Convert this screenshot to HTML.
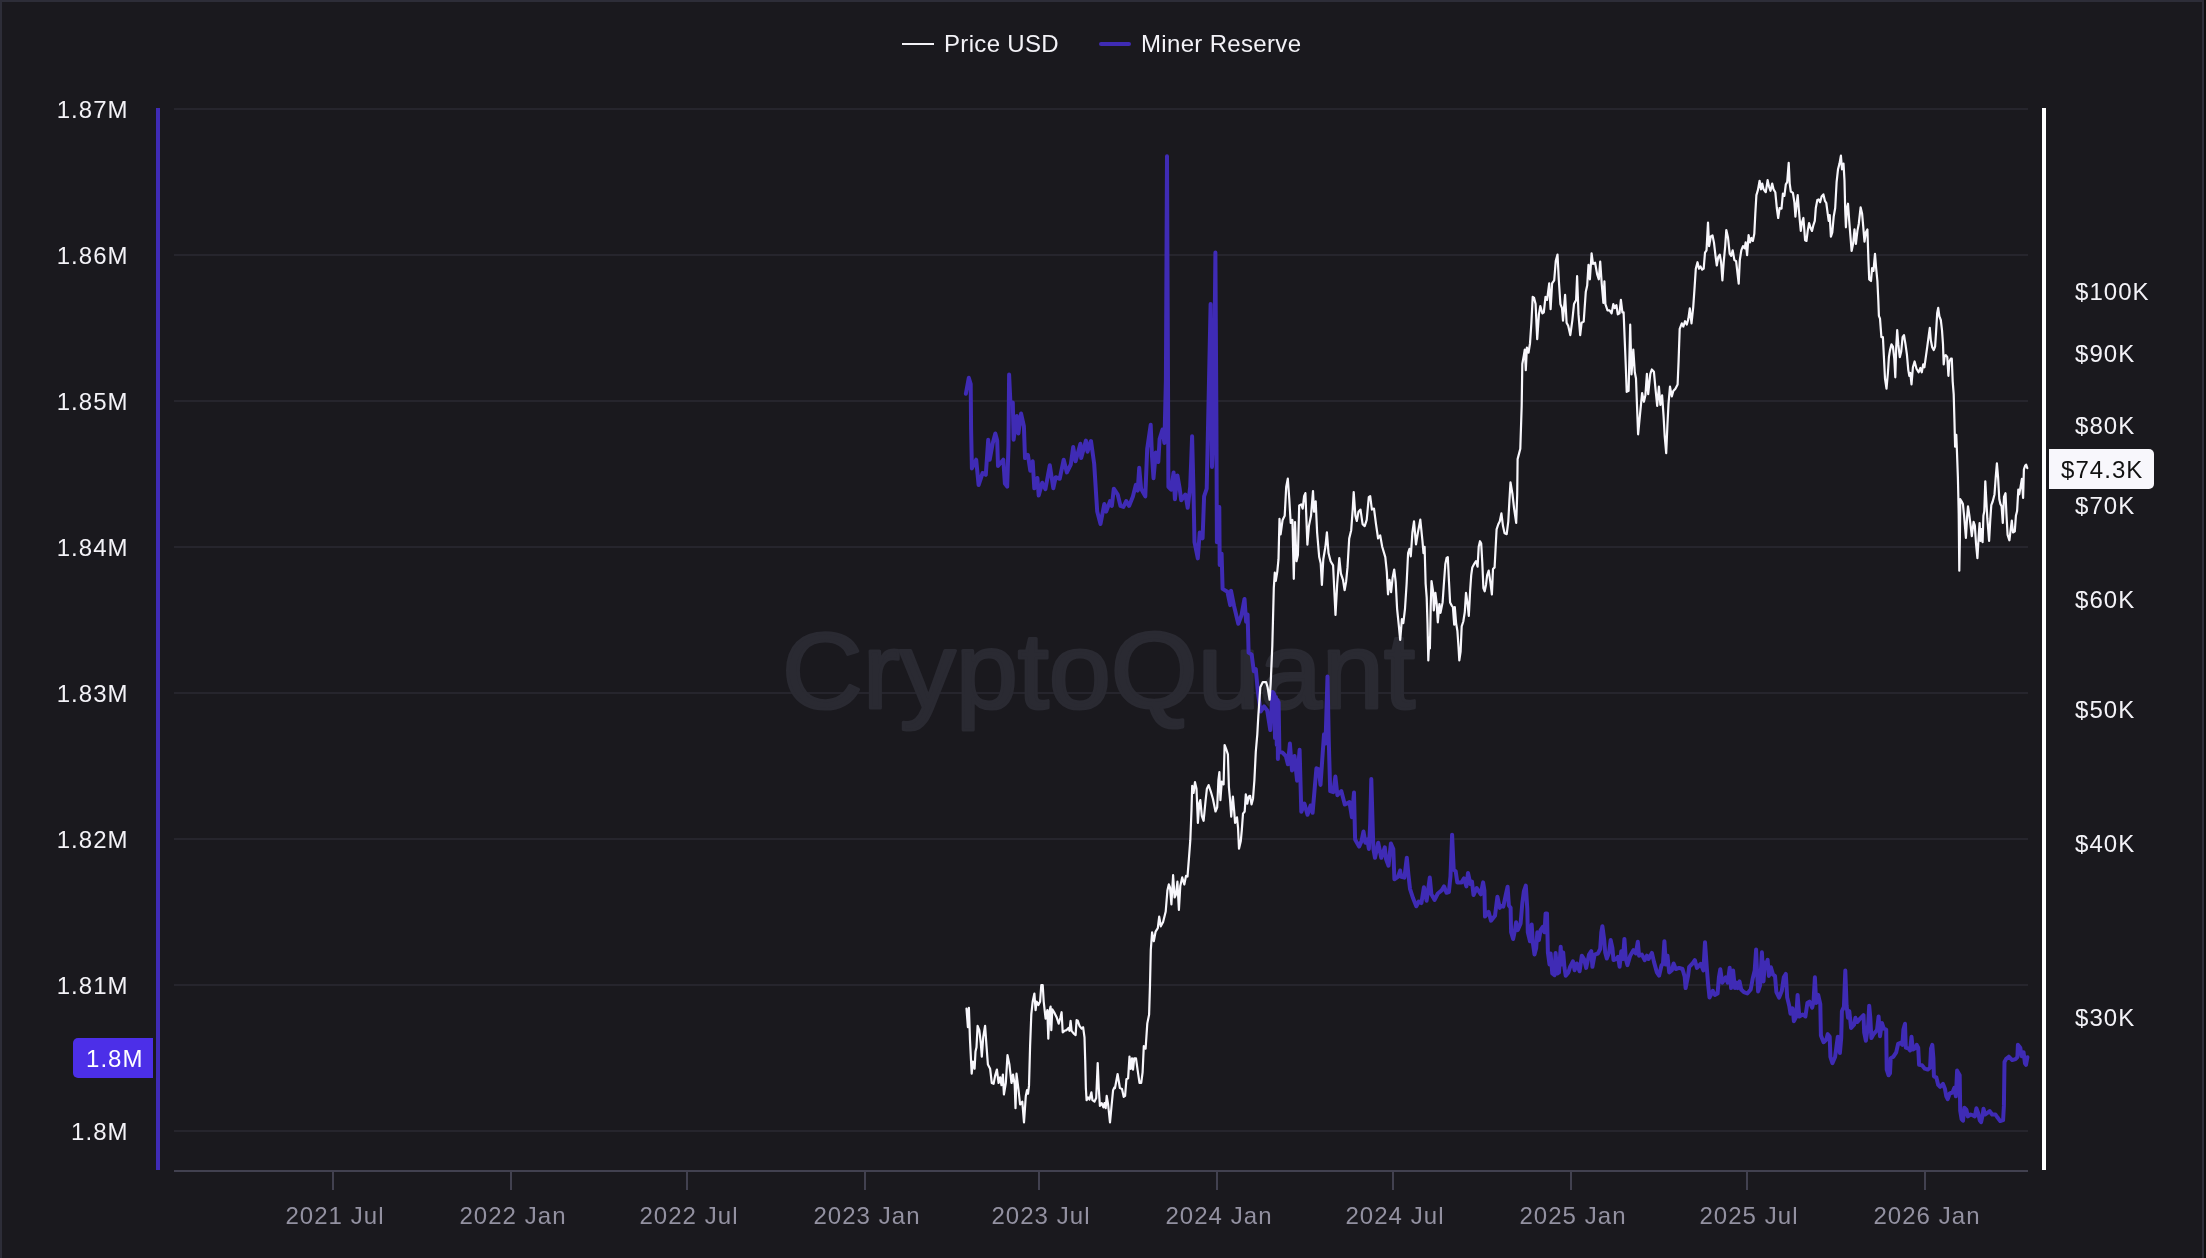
<!DOCTYPE html>
<html><head><meta charset="utf-8"><title>Miner Reserve</title>
<style>
html,body{margin:0;padding:0;background:#1a191e;}
body{width:2206px;height:1258px;position:relative;overflow:hidden;font-family:"Liberation Sans",sans-serif;}
.bT{position:absolute;left:0;top:0;width:2204px;height:2px;background:#2d2d38;}
.bL{position:absolute;left:0;top:0;width:2px;height:1258px;background:#2d2d38;}
.bR{position:absolute;left:2202px;top:0;width:2px;height:1258px;background:#2d2d38;}
.bX{position:absolute;left:2204px;top:0;width:2px;height:1258px;background:#0e0e0f;}
.t{position:absolute;white-space:nowrap;font-size:24px;line-height:28px;height:28px;color:#f3f2f7;letter-spacing:1.05px;}
.yl{width:100px;left:28.6px;text-align:right;}
.xl{width:160px;text-align:center;color:#9391a1;}
.yr{left:2075px;}
.lg{top:30px;font-size:24px;letter-spacing:0.33px;}
.badgeL{position:absolute;left:73px;top:1038px;width:80px;height:40px;background:#4c2fe8;border-radius:5px 0 0 5px;}
.badgeR{position:absolute;left:2049px;top:449px;width:105px;height:40px;background:#f8f7fc;border-radius:0 5px 5px 0;}
</style></head><body>
<svg width="2206" height="1258" viewBox="0 0 2206 1258" style="position:absolute;left:0;top:0">
<rect x="174" y="108" width="1854" height="2" fill="#26252d"/>
<rect x="174" y="254" width="1854" height="2" fill="#26252d"/>
<rect x="174" y="400" width="1854" height="2" fill="#26252d"/>
<rect x="174" y="546" width="1854" height="2" fill="#26252d"/>
<rect x="174" y="692" width="1854" height="2" fill="#26252d"/>
<rect x="174" y="838" width="1854" height="2" fill="#26252d"/>
<rect x="174" y="984" width="1854" height="2" fill="#26252d"/>
<rect x="174" y="1130" width="1854" height="2" fill="#26252d"/>
<text id="wm" x="1098.5" y="707.5" text-anchor="middle" font-family="'Liberation Sans',sans-serif" font-size="108" fill="#2a2a32" stroke="#2a2a32" stroke-width="3.2" stroke-linejoin="round" textLength="633" lengthAdjust="spacingAndGlyphs">CryptoQuant</text>
<rect x="174" y="1170" width="1854" height="2" fill="#424150"/>
<rect x="332" y="1171" width="2" height="19" fill="#424150"/>
<rect x="510" y="1171" width="2" height="19" fill="#424150"/>
<rect x="686" y="1171" width="2" height="19" fill="#424150"/>
<rect x="864" y="1171" width="2" height="19" fill="#424150"/>
<rect x="1038" y="1171" width="2" height="19" fill="#424150"/>
<rect x="1216" y="1171" width="2" height="19" fill="#424150"/>
<rect x="1392" y="1171" width="2" height="19" fill="#424150"/>
<rect x="1570" y="1171" width="2" height="19" fill="#424150"/>
<rect x="1746" y="1171" width="2" height="19" fill="#424150"/>
<rect x="1924" y="1171" width="2" height="19" fill="#424150"/>
<rect x="156" y="108" width="4" height="1062" fill="#3f2bb5"/>
<rect x="2042" y="108" width="4" height="1062" fill="#ffffff"/>
<path d="M965.9 393.7 L968.8 377.8 L970.7 384.0 L971.1 429.5 L971.9 468.4 L976.2 459.7 L978.6 485.0 L982.6 473.0 L985.8 474.8 L988.2 439.8 L989.7 459.7 L992.6 443.8 L995.3 433.5 L997.2 440.6 L998.0 466.0 L1003.3 459.7 L1004.9 483.5 L1007.2 486.7 L1008.5 445.4 L1009.1 374.6 L1010.4 402.5 L1012.8 402.5 L1013.6 439.8 L1016.8 416.0 L1018.4 433.5 L1021.1 413.6 L1023.9 426.3 L1025.0 458.1 L1027.9 454.9 L1030.3 470.8 L1032.7 461.3 L1034.3 488.3 L1037.4 478.0 L1038.7 495.5 L1042.2 482.8 L1045.4 489.1 L1049.8 465.3 L1053.3 488.3 L1055.7 477.2 L1059.7 478.8 L1063.7 459.7 L1066.9 472.4 L1070.8 464.5 L1073.2 447.0 L1075.6 461.3 L1080.4 443.8 L1081.2 458.1 L1085.9 440.6 L1087.5 451.7 L1090.7 441.4 L1091.0 441.0 L1094.2 464.0 L1097.2 511.6 L1100.5 524.0 L1104.3 504.0 L1106.2 511.6 L1110.0 501.1 L1111.9 505.9 L1113.8 488.7 L1117.7 494.5 L1120.5 505.9 L1123.4 506.9 L1126.2 501.1 L1129.1 505.9 L1132.9 496.4 L1135.8 484.9 L1137.7 490.6 L1139.2 467.8 L1141.1 488.7 L1145.3 496.4 L1147.2 448.7 L1150.7 424.8 L1152.0 456.3 L1153.5 478.2 L1155.8 452.5 L1158.3 462.0 L1159.6 439.1 L1162.5 429.6 L1164.4 443.0 L1165.9 380.0 L1167.0 156.2 L1168.0 380.0 L1168.4 486.8 L1171.1 489.7 L1173.6 472.5 L1174.9 499.2 L1177.4 475.4 L1179.7 488.7 L1181.2 500.2 L1185.4 494.5 L1187.7 507.8 L1190.2 486.8 L1192.1 436.3 L1193.4 486.8 L1194.5 542.2 L1197.8 558.4 L1199.7 532.6 L1202.6 538.3 L1204.1 496.4 L1206.7 488.7 L1208.6 400.0 L1210.6 304.0 L1212.0 467.0 L1213.6 430.0 L1215.4 252.4 L1216.4 420.0 L1216.9 542.2 L1219.3 506.9 L1219.7 565.0 L1221.6 553.6 L1222.6 588.9 L1227.4 591.8 L1230.2 605.1 L1231.0 590.7 L1234.1 606.2 L1238.3 623.7 L1241.4 615.5 L1244.5 598.9 L1246.1 621.7 L1247.6 614.4 L1248.6 652.6 L1251.7 654.7 L1253.8 671.2 L1255.8 669.2 L1257.9 691.9 L1260.6 711.5 L1264.1 706.4 L1267.2 710.5 L1270.3 730.1 L1272.6 692.0 L1274.2 694.0 L1275.0 738.0 L1275.9 697.0 L1276.8 745.0 L1277.6 700.0 L1277.9 759.0 L1278.6 702.0 L1279.4 752.0 L1282.3 752.4 L1285.8 756.0 L1287.9 764.2 L1289.9 743.6 L1292.0 770.4 L1294.5 756.0 L1297.1 780.7 L1299.6 749.8 L1301.3 811.7 L1304.4 803.5 L1307.5 814.8 L1310.6 805.5 L1312.6 812.8 L1316.4 768.3 L1318.8 769.4 L1320.5 784.9 L1324.0 734.3 L1325.5 743.6 L1327.5 676.4 L1328.8 741.5 L1330.2 791.1 L1333.3 792.1 L1335.4 776.6 L1337.4 795.2 L1341.3 791.0 L1344.8 804.5 L1349.5 802.1 L1351.9 817.2 L1354.0 792.6 L1355.1 839.5 L1359.1 846.6 L1361.5 841.1 L1363.5 831.5 L1365.4 842.7 L1367.3 839.5 L1368.9 849.0 L1370.2 823.6 L1371.3 779.1 L1372.6 823.6 L1373.4 849.0 L1375.0 857.8 L1378.2 842.7 L1381.3 857.8 L1384.8 847.4 L1386.1 859.4 L1388.5 865.7 L1390.9 843.5 L1393.3 849.0 L1394.4 879.2 L1398.0 876.9 L1400.1 870.5 L1401.2 876.9 L1404.4 877.6 L1406.8 857.8 L1408.4 874.5 L1410.0 888.8 L1413.1 898.3 L1416.3 906.3 L1418.7 901.5 L1421.4 903.1 L1423.9 887.2 L1426.6 900.7 L1429.8 877.6 L1431.4 894.3 L1434.6 899.9 L1437.8 893.5 L1441.7 890.4 L1444.1 886.4 L1446.5 892.8 L1448.9 892.0 L1450.5 876.1 L1452.1 834.7 L1453.7 869.7 L1455.7 871.3 L1457.3 882.4 L1461.6 882.4 L1464.0 878.4 L1466.4 886.4 L1468.0 872.9 L1470.4 884.0 L1472.0 881.6 L1473.5 895.1 L1476.7 888.0 L1480.7 894.3 L1483.1 882.4 L1484.4 890.4 L1485.0 916.6 L1488.6 911.8 L1491.0 920.6 L1495.0 915.8 L1497.4 896.7 L1499.8 907.9 L1500.0 905.6 L1503.3 906.7 L1505.6 895.6 L1507.6 886.7 L1508.9 905.6 L1510.6 907.8 L1511.1 932.3 L1513.1 939.0 L1515.0 930.1 L1516.1 922.3 L1517.8 930.1 L1520.6 923.4 L1522.3 903.4 L1523.9 891.1 L1525.8 885.6 L1527.3 908.9 L1527.8 932.3 L1530.0 941.2 L1531.7 924.5 L1532.8 942.3 L1534.5 954.6 L1536.2 947.9 L1537.3 932.3 L1538.9 940.1 L1540.6 930.1 L1542.8 926.8 L1544.5 932.3 L1545.6 913.4 L1547.0 913.4 L1547.9 952.4 L1549.5 964.6 L1550.6 953.5 L1552.3 973.5 L1554.5 975.2 L1555.6 952.9 L1557.3 973.5 L1559.0 972.4 L1560.7 946.8 L1561.8 964.6 L1563.2 952.4 L1564.5 967.9 L1565.7 975.7 L1568.4 972.4 L1570.1 966.8 L1572.9 961.3 L1574.6 970.2 L1576.8 963.5 L1579.6 971.3 L1581.8 955.7 L1584.0 959.0 L1586.2 967.9 L1589.0 954.6 L1591.3 951.2 L1592.4 966.8 L1594.6 954.6 L1597.9 953.5 L1600.2 949.0 L1601.3 932.3 L1602.4 926.2 L1604.1 939.0 L1605.2 952.4 L1606.8 958.5 L1609.1 952.4 L1610.7 940.1 L1612.4 947.9 L1613.5 960.1 L1616.3 959.0 L1618.0 956.8 L1619.6 966.8 L1621.3 951.2 L1623.0 959.0 L1624.4 939.0 L1625.8 959.0 L1627.4 965.1 L1630.2 955.7 L1633.5 950.1 L1635.8 953.5 L1637.8 941.8 L1639.1 955.7 L1641.9 954.6 L1644.7 960.1 L1646.9 955.7 L1648.6 959.0 L1651.9 952.9 L1654.1 962.4 L1656.9 972.4 L1659.1 975.7 L1661.4 965.7 L1663.0 963.5 L1664.4 941.2 L1665.8 964.6 L1667.5 955.7 L1669.2 972.4 L1671.9 970.2 L1673.6 963.5 L1675.8 969.0 L1679.2 967.9 L1682.5 969.0 L1684.7 976.8 L1685.6 988.0 L1688.1 975.7 L1689.2 966.8 L1692.5 963.5 L1694.8 960.1 L1697.0 967.9 L1700.7 963.8 L1703.4 970.5 L1705.0 942.2 L1706.8 967.8 L1708.1 984.1 L1709.5 997.6 L1712.8 990.8 L1714.9 994.9 L1717.6 993.5 L1718.9 977.3 L1720.3 969.2 L1722.3 982.7 L1725.7 977.3 L1727.7 982.7 L1729.7 967.8 L1731.1 988.1 L1733.1 970.5 L1734.9 988.1 L1736.5 982.7 L1737.8 988.1 L1739.5 981.4 L1741.2 989.5 L1743.9 992.2 L1747.3 993.5 L1750.7 989.5 L1752.7 978.6 L1754.7 970.5 L1756.1 949.6 L1757.0 970.5 L1758.1 991.5 L1760.1 985.4 L1761.9 952.3 L1763.5 981.4 L1764.9 962.4 L1766.9 966.5 L1767.6 959.7 L1768.9 975.9 L1770.9 967.2 L1773.0 974.6 L1775.0 975.9 L1776.4 992.2 L1779.1 997.6 L1781.8 990.8 L1783.8 977.3 L1785.8 973.9 L1787.2 997.6 L1789.2 1005.7 L1790.5 1013.8 L1792.6 1008.4 L1793.9 1021.2 L1796.2 1016.5 L1797.6 994.9 L1799.3 1016.5 L1802.7 1014.5 L1805.4 1016.5 L1807.4 1003.0 L1809.5 1001.6 L1812.2 1007.7 L1813.5 1001.6 L1814.9 977.3 L1816.2 1003.0 L1818.2 994.9 L1820.3 1004.3 L1820.9 1035.4 L1823.6 1042.2 L1826.4 1039.5 L1827.7 1034.1 L1829.7 1036.8 L1830.4 1057.0 L1832.4 1063.1 L1835.1 1057.0 L1836.5 1046.2 L1837.8 1036.8 L1839.9 1053.0 L1841.2 1038.1 L1841.9 1011.1 L1843.9 1007.0 L1845.3 970.5 L1846.6 1005.7 L1848.0 1017.8 L1849.3 1011.1 L1851.1 1028.0 L1854.1 1024.6 L1855.4 1017.8 L1857.4 1021.9 L1860.8 1017.8 L1863.5 1015.1 L1864.2 1032.7 L1865.9 1040.8 L1868.2 1024.6 L1869.2 1005.7 L1870.3 1017.8 L1871.4 1038.1 L1873.6 1034.1 L1877.0 1030.0 L1878.6 1016.5 L1880.0 1036.2 L1881.9 1022.9 L1883.8 1028.6 L1886.2 1029.5 L1886.7 1069.6 L1888.6 1075.3 L1890.0 1073.4 L1890.7 1058.2 L1893.4 1056.7 L1896.2 1052.4 L1898.1 1043.9 L1900.5 1042.9 L1902.4 1044.8 L1903.4 1029.5 L1905.0 1023.8 L1905.8 1047.7 L1908.6 1048.6 L1910.1 1050.5 L1911.5 1036.7 L1912.9 1049.6 L1914.8 1048.6 L1916.7 1044.8 L1918.2 1047.7 L1919.1 1064.8 L1922.0 1065.3 L1924.8 1068.7 L1927.7 1069.6 L1930.1 1067.7 L1931.0 1048.6 L1932.3 1044.8 L1933.4 1058.2 L1933.9 1076.3 L1936.3 1077.3 L1938.2 1084.9 L1940.1 1086.8 L1943.0 1083.9 L1944.9 1088.7 L1946.3 1096.3 L1947.7 1099.2 L1949.7 1093.5 L1952.5 1092.5 L1954.4 1087.7 L1955.9 1096.3 L1957.1 1070.6 L1959.7 1075.3 L1960.2 1110.6 L1961.6 1119.2 L1963.0 1120.7 L1964.4 1107.8 L1966.4 1109.7 L1967.8 1116.4 L1970.6 1114.5 L1973.0 1115.4 L1974.9 1116.4 L1976.4 1108.3 L1978.3 1113.5 L1979.7 1120.2 L1981.1 1122.1 L1982.6 1115.4 L1983.5 1108.7 L1985.0 1114.5 L1987.8 1112.6 L1989.7 1111.1 L1992.1 1114.5 L1995.5 1114.5 L1997.4 1117.3 L2000.2 1121.1 L2003.1 1120.2 L2003.9 1105.9 L2004.5 1062.0 L2006.0 1059.1 L2008.8 1056.7 L2012.2 1060.1 L2015.5 1059.1 L2017.4 1057.2 L2017.9 1044.8 L2020.3 1047.7 L2021.7 1056.3 L2023.6 1052.4 L2025.0 1063.4 L2026.0 1064.8 L2027.4 1057.2" fill="none" stroke="#3f2bb5" stroke-width="4" stroke-linejoin="round" stroke-linecap="round"/>
<path d="M966.5 1008.6 L967.9 1027.2 L968.9 1007.9 L970.0 1040.1 L971.7 1073.7 L972.9 1061.6 L974.6 1068.7 L975.5 1051.6 L976.5 1047.3 L977.6 1025.8 L979.3 1030.1 L980.8 1043.0 L981.8 1056.6 L983.2 1037.3 L985.1 1025.8 L986.5 1045.8 L987.9 1064.5 L990.1 1068.7 L991.8 1083.0 L993.6 1083.8 L995.1 1075.9 L996.9 1069.5 L998.6 1083.0 L1000.1 1077.3 L1001.5 1085.2 L1002.9 1074.5 L1003.9 1094.5 L1005.8 1083.0 L1007.5 1055.1 L1009.4 1064.5 L1011.5 1083.0 L1013.0 1074.5 L1014.7 1084.5 L1015.5 1108.1 L1016.5 1073.7 L1018.4 1088.8 L1020.1 1104.5 L1022.3 1101.6 L1024.0 1122.4 L1025.8 1095.9 L1027.0 1090.2 L1028.0 1093.8 L1029.0 1085.9 L1030.1 1045.8 L1031.3 1014.4 L1032.7 1001.5 L1034.4 993.6 L1035.6 1010.1 L1036.6 1001.5 L1038.4 1005.1 L1040.1 1001.5 L1041.3 985.0 L1042.7 985.0 L1043.7 1001.5 L1045.6 1018.7 L1047.3 1010.1 L1048.3 1038.7 L1049.4 1011.5 L1050.6 1006.5 L1051.3 1030.1 L1052.3 1009.4 L1054.5 1012.9 L1056.6 1017.2 L1058.7 1023.7 L1060.5 1017.2 L1061.6 1012.2 L1062.7 1032.3 L1064.5 1030.8 L1066.6 1030.1 L1068.5 1028.0 L1069.5 1030.8 L1070.6 1020.8 L1071.6 1030.8 L1073.8 1033.7 L1075.6 1035.1 L1076.6 1020.1 L1077.8 1020.8 L1079.5 1025.8 L1081.6 1028.7 L1083.1 1027.2 L1084.5 1037.3 L1085.2 1060.2 L1085.9 1088.8 L1086.6 1100.2 L1088.1 1097.4 L1089.5 1099.5 L1091.4 1092.4 L1092.4 1100.2 L1094.5 1101.6 L1096.2 1098.1 L1097.7 1063.0 L1098.8 1088.8 L1099.9 1105.9 L1101.7 1103.1 L1103.4 1107.4 L1104.5 1103.1 L1105.7 1108.1 L1106.7 1095.9 L1108.1 1104.5 L1110.0 1122.4 L1111.7 1104.5 L1113.1 1090.2 L1114.5 1087.3 L1115.0 1088.0 L1117.6 1074.0 L1119.9 1088.0 L1122.0 1088.9 L1123.7 1096.8 L1125.1 1095.9 L1126.4 1079.3 L1128.1 1078.4 L1129.5 1056.6 L1130.7 1068.8 L1132.0 1058.3 L1133.0 1069.7 L1134.2 1058.3 L1136.0 1058.3 L1137.7 1070.6 L1139.5 1082.8 L1141.2 1082.8 L1142.6 1072.3 L1143.8 1046.1 L1145.6 1048.7 L1147.3 1023.4 L1149.1 1014.6 L1150.0 984.9 L1150.8 949.9 L1152.1 932.4 L1153.8 941.2 L1155.6 931.6 L1157.8 928.1 L1159.2 916.7 L1160.8 926.3 L1163.1 922.0 L1165.7 911.5 L1167.4 890.5 L1168.8 884.4 L1170.0 887.4 L1171.4 904.5 L1173.1 875.2 L1174.6 897.4 L1176.0 894.5 L1177.4 881.6 L1178.9 910.0 L1180.3 885.9 L1182.2 877.4 L1184.3 884.5 L1186.0 875.9 L1187.5 876.6 L1188.9 858.8 L1190.3 840.2 L1191.5 810.1 L1192.2 785.8 L1193.6 792.9 L1195.0 782.2 L1196.5 788.7 L1197.9 823.0 L1199.3 803.0 L1200.3 800.1 L1201.8 815.8 L1203.6 820.8 L1205.5 801.5 L1206.9 788.7 L1208.6 785.1 L1210.8 791.5 L1212.9 798.7 L1215.5 811.5 L1217.2 807.3 L1218.4 780.1 L1219.4 772.2 L1220.4 800.1 L1221.8 781.5 L1223.6 784.4 L1224.6 745.0 L1226.5 750.0 L1227.9 754.3 L1228.9 787.2 L1230.1 800.1 L1231.2 816.6 L1232.9 796.5 L1234.1 810.1 L1235.1 823.0 L1237.0 817.3 L1238.0 827.3 L1239.0 848.7 L1240.8 840.9 L1241.8 830.1 L1243.0 813.7 L1244.7 811.5 L1245.8 794.4 L1247.3 803.7 L1248.7 796.5 L1250.1 795.8 L1251.5 804.4 L1253.0 798.7 L1254.4 780.1 L1255.8 751.5 L1257.3 734.3 L1258.3 716.2 L1260.3 687.3 L1262.8 682.1 L1266.1 682.1 L1267.6 687.3 L1269.6 699.7 L1270.7 683.1 L1272.3 646.0 L1273.8 588.1 L1274.8 572.6 L1275.8 580.9 L1277.3 571.6 L1278.5 559.2 L1279.5 518.9 L1280.6 534.4 L1282.6 519.9 L1284.7 515.8 L1286.2 486.9 L1287.8 478.6 L1289.3 499.3 L1290.7 523.0 L1292.4 519.9 L1293.8 578.8 L1295.0 522.0 L1296.5 561.2 L1297.9 555.0 L1299.2 505.5 L1301.2 504.4 L1302.7 508.6 L1304.1 496.2 L1305.4 493.1 L1307.4 544.7 L1308.9 526.1 L1311.0 515.8 L1313.0 491.0 L1314.0 511.7 L1315.7 501.3 L1317.1 532.3 L1319.2 557.1 L1320.7 563.3 L1321.9 585.0 L1323.3 559.2 L1325.4 546.8 L1326.9 532.3 L1328.5 553.0 L1330.6 561.2 L1333.1 565.4 L1334.3 590.2 L1335.5 615.0 L1337.2 584.0 L1339.3 558.1 L1340.9 573.6 L1343.0 579.8 L1344.6 590.2 L1346.1 581.9 L1347.5 567.4 L1349.2 538.5 L1351.2 530.2 L1352.7 509.6 L1353.7 492.0 L1355.4 515.8 L1356.8 521.0 L1358.5 511.7 L1360.5 509.6 L1362.6 524.1 L1364.7 526.1 L1366.7 519.9 L1368.8 497.2 L1370.2 496.2 L1371.9 509.6 L1374.0 508.6 L1376.0 524.1 L1378.1 538.5 L1380.2 535.4 L1382.2 546.8 L1385.3 557.1 L1386.8 571.6 L1388.0 594.3 L1389.5 579.8 L1391.1 592.2 L1392.6 577.8 L1394.2 569.5 L1395.7 581.9 L1397.1 608.8 L1398.8 625.3 L1400.2 639.8 L1401.9 619.1 L1403.3 623.2 L1405.0 608.8 L1406.6 584.0 L1408.1 553.0 L1409.5 548.8 L1410.8 556.3 L1412.4 532.5 L1414.0 521.3 L1416.0 544.4 L1417.9 532.5 L1420.3 519.7 L1422.4 540.4 L1423.5 553.1 L1424.6 546.8 L1425.6 583.3 L1426.7 597.6 L1427.5 623.1 L1428.3 660.4 L1429.4 637.4 L1429.9 648.5 L1430.7 607.2 L1431.5 581.0 L1433.1 591.3 L1433.8 610.4 L1435.4 592.9 L1436.7 604.0 L1437.8 622.3 L1439.4 604.0 L1440.5 612.8 L1442.6 602.4 L1443.7 586.5 L1445.3 564.3 L1446.6 557.9 L1447.8 557.1 L1449.0 581.7 L1450.1 602.4 L1451.7 605.6 L1452.9 607.2 L1454.2 624.7 L1454.8 607.2 L1456.1 623.1 L1457.4 631.0 L1458.5 646.9 L1459.3 660.4 L1460.6 651.7 L1461.7 626.3 L1463.3 621.5 L1464.8 612.0 L1466.0 592.9 L1467.6 604.0 L1468.8 615.9 L1470.1 591.3 L1471.2 575.4 L1472.3 567.4 L1474.4 563.5 L1476.0 561.1 L1477.6 566.6 L1478.7 546.8 L1480.0 541.2 L1481.2 543.6 L1482.3 562.7 L1483.4 588.1 L1484.7 591.3 L1486.0 584.9 L1487.1 575.4 L1488.7 570.6 L1490.3 581.7 L1491.9 594.5 L1493.0 569.0 L1494.6 567.4 L1495.5 550.0 L1496.6 529.3 L1498.2 524.5 L1499.8 521.3 L1501.4 513.4 L1503.0 526.1 L1504.6 533.3 L1506.7 534.1 L1508.3 521.3 L1509.4 500.7 L1510.5 482.4 L1512.5 494.3 L1514.1 508.6 L1516.2 522.9 L1517.2 495.0 L1517.6 459.1 L1520.3 448.8 L1521.7 405.4 L1522.3 364.0 L1523.8 355.7 L1524.8 349.5 L1525.8 370.2 L1526.9 347.5 L1528.5 352.7 L1530.0 343.4 L1531.4 322.7 L1532.7 296.8 L1534.1 297.9 L1535.6 304.1 L1537.2 339.2 L1538.9 314.4 L1540.3 306.1 L1542.4 313.4 L1543.8 312.3 L1545.5 296.8 L1547.1 299.9 L1549.2 283.4 L1550.6 309.2 L1552.1 283.4 L1554.2 280.3 L1555.8 260.7 L1557.5 254.5 L1558.9 281.3 L1560.4 304.1 L1562.0 308.2 L1563.0 320.6 L1565.1 294.8 L1566.6 322.7 L1568.2 325.8 L1570.3 335.1 L1572.3 320.6 L1574.0 304.1 L1576.1 299.9 L1577.1 276.2 L1578.5 314.4 L1580.2 335.1 L1581.6 322.7 L1583.7 321.6 L1585.8 291.7 L1587.2 285.5 L1588.5 264.8 L1589.9 279.3 L1591.6 253.4 L1593.0 263.8 L1595.1 262.7 L1597.1 274.1 L1598.8 279.3 L1600.2 261.7 L1601.7 283.4 L1603.4 303.0 L1604.4 281.3 L1605.4 304.1 L1607.5 310.3 L1609.6 310.3 L1611.6 313.4 L1613.3 304.1 L1614.7 308.2 L1616.4 305.1 L1617.8 314.4 L1619.5 313.4 L1620.9 299.9 L1622.4 312.3 L1623.6 312.3 L1624.6 337.1 L1625.7 364.0 L1626.7 391.9 L1628.6 390.9 L1630.2 324.7 L1631.5 374.4 L1633.3 349.5 L1634.8 372.3 L1636.0 378.5 L1637.0 405.4 L1638.1 434.3 L1640.0 414.6 L1642.1 393.1 L1643.9 401.7 L1645.4 395.3 L1646.9 373.8 L1648.2 394.2 L1650.3 373.8 L1651.8 369.5 L1653.9 371.7 L1655.5 388.8 L1657.2 406.0 L1658.9 386.7 L1660.4 404.9 L1662.1 395.3 L1663.6 416.7 L1664.7 436.1 L1666.2 453.2 L1667.5 423.2 L1668.5 403.9 L1670.0 386.7 L1671.8 396.4 L1673.3 391.0 L1675.4 388.8 L1677.6 384.5 L1678.6 360.9 L1679.7 328.8 L1681.8 323.4 L1683.3 326.6 L1685.1 321.2 L1686.8 324.5 L1688.3 319.1 L1689.8 308.4 L1691.5 323.4 L1693.2 307.3 L1694.7 285.8 L1695.8 268.7 L1697.5 262.2 L1699.0 268.7 L1700.5 266.5 L1702.2 269.7 L1703.7 268.7 L1705.0 252.6 L1706.5 250.4 L1708.0 222.5 L1709.1 246.1 L1710.8 236.5 L1712.5 235.4 L1714.0 242.9 L1715.5 255.8 L1716.8 265.5 L1718.3 256.9 L1719.8 254.7 L1721.1 262.2 L1722.4 280.5 L1723.7 262.2 L1725.2 246.1 L1726.3 230.0 L1728.0 237.6 L1729.7 253.6 L1731.2 255.8 L1732.7 250.4 L1734.4 260.1 L1736.1 261.2 L1737.6 274.0 L1738.7 283.7 L1739.8 260.1 L1741.3 250.4 L1743.0 246.1 L1744.7 248.3 L1745.7 242.3 L1747.1 255.2 L1748.6 235.2 L1750.0 242.3 L1751.4 238.0 L1752.9 240.9 L1754.3 233.7 L1755.3 213.7 L1756.4 195.1 L1757.9 190.1 L1759.6 180.8 L1761.0 189.4 L1762.2 183.6 L1763.6 189.4 L1765.8 192.2 L1767.6 180.1 L1769.0 186.5 L1770.5 190.8 L1772.2 183.6 L1773.6 189.4 L1775.3 192.2 L1776.8 208.0 L1778.2 218.0 L1779.6 208.0 L1781.5 208.7 L1782.9 193.7 L1784.4 195.8 L1785.8 184.4 L1787.2 182.2 L1788.7 162.9 L1789.7 183.6 L1790.8 191.5 L1792.9 192.9 L1794.4 202.2 L1795.4 216.6 L1796.5 205.1 L1797.7 195.1 L1798.7 208.0 L1799.7 219.4 L1800.8 230.9 L1802.0 222.3 L1803.4 218.0 L1804.4 230.9 L1805.1 240.2 L1806.5 240.9 L1807.7 230.9 L1809.1 223.0 L1810.6 228.0 L1812.0 230.9 L1813.4 225.1 L1814.8 220.9 L1815.8 208.0 L1817.3 200.1 L1818.7 199.4 L1820.1 202.2 L1821.6 196.5 L1823.4 194.4 L1824.9 200.8 L1826.3 203.0 L1827.7 213.7 L1828.7 220.9 L1829.7 215.1 L1830.9 236.6 L1832.3 232.3 L1833.7 216.6 L1835.2 208.0 L1836.6 182.2 L1838.0 169.3 L1839.5 163.6 L1840.9 155.7 L1842.0 169.3 L1843.5 163.6 L1844.5 180.8 L1845.2 209.4 L1845.9 227.3 L1846.9 208.0 L1848.0 203.7 L1849.2 220.9 L1850.6 238.0 L1851.6 250.9 L1853.1 243.8 L1854.5 229.4 L1855.9 243.8 L1857.4 230.9 L1858.8 223.7 L1860.6 207.3 L1862.1 213.7 L1863.1 225.1 L1864.5 241.6 L1865.9 232.3 L1867.4 229.4 L1868.4 259.5 L1869.2 279.5 L1871.0 281.0 L1872.1 268.1 L1873.5 270.9 L1875.0 253.8 L1876.0 266.7 L1877.4 281.0 L1878.3 300.0 L1878.9 315.8 L1880.0 318.6 L1881.4 337.2 L1882.9 337.2 L1884.0 358.7 L1885.0 378.7 L1886.5 388.7 L1887.9 373.0 L1888.9 357.2 L1890.0 350.1 L1891.5 344.4 L1892.9 346.5 L1894.3 358.7 L1895.3 377.3 L1896.2 347.2 L1897.2 330.1 L1898.3 344.4 L1899.8 357.2 L1901.2 351.5 L1902.6 337.2 L1904.0 335.1 L1905.5 344.4 L1906.9 354.4 L1908.3 370.1 L1909.3 375.8 L1910.3 373.0 L1911.5 384.4 L1912.9 367.3 L1914.6 361.5 L1916.5 368.7 L1918.6 372.3 L1920.4 368.0 L1921.8 372.3 L1923.2 364.4 L1924.4 367.3 L1925.8 357.2 L1927.2 347.2 L1928.7 335.8 L1929.8 327.9 L1930.8 340.1 L1932.2 347.2 L1933.7 350.1 L1935.1 346.5 L1936.1 331.5 L1937.2 312.9 L1938.2 307.9 L1939.4 316.5 L1940.8 320.0 L1942.0 330.1 L1943.0 344.4 L1943.7 364.4 L1944.7 355.8 L1945.8 355.1 L1947.3 357.2 L1948.4 375.8 L1949.4 361.5 L1950.8 358.7 L1951.8 358.7 L1952.7 381.6 L1953.7 394.4 L1954.4 418.8 L1955.1 446.7 L1956.3 434.8 L1956.9 450.3 L1957.9 477.7 L1958.7 513.5 L1959.3 570.7 L1959.9 537.3 L1960.3 499.2 L1961.7 501.5 L1962.9 503.9 L1964.1 515.8 L1965.9 537.9 L1967.1 517.0 L1968.0 506.3 L1969.4 515.8 L1970.6 525.4 L1971.8 536.1 L1973.6 521.8 L1974.8 525.4 L1976.0 543.3 L1977.4 558.2 L1978.6 537.3 L1979.6 523.0 L1980.5 540.9 L1981.4 529.0 L1982.6 542.1 L1983.4 515.8 L1984.3 511.1 L1985.3 481.3 L1986.1 496.8 L1987.3 518.2 L1989.1 540.9 L1990.3 519.4 L1991.3 505.1 L1992.7 501.5 L1994.5 494.4 L1995.7 477.7 L1996.9 463.4 L1998.1 477.7 L1999.3 499.2 L2000.4 503.9 L2001.6 506.3 L2002.8 523.0 L2004.0 496.8 L2005.5 493.2 L2006.4 513.5 L2007.6 534.9 L2009.4 540.3 L2010.6 530.2 L2011.8 520.6 L2013.0 532.5 L2014.8 531.3 L2015.9 515.8 L2017.1 511.1 L2018.3 489.6 L2019.2 494.4 L2020.7 486.0 L2021.9 478.9 L2023.1 498.0 L2023.9 469.3 L2025.1 465.8 L2026.1 464.6 L2027.3 468.2" fill="none" stroke="#f8f7fc" stroke-width="2.2" stroke-linejoin="round" stroke-linecap="round"/>
</svg>
<div class="bT"></div><div class="bL"></div><div class="bR"></div><div class="bX"></div>
<div id="labels" style="position:absolute;left:0;top:0;width:2206px;height:1258px;will-change:transform">
<div class="t yl" style="top:96px">1.87M</div>
<div class="t yl" style="top:242px">1.86M</div>
<div class="t yl" style="top:388px">1.85M</div>
<div class="t yl" style="top:534px">1.84M</div>
<div class="t yl" style="top:680px">1.83M</div>
<div class="t yl" style="top:826px">1.82M</div>
<div class="t yl" style="top:972px">1.81M</div>
<div class="t yl" style="top:1118px">1.8M</div>
<div class="t xl" style="left:255px;top:1202px">2021 Jul</div>
<div class="t xl" style="left:433px;top:1202px">2022 Jan</div>
<div class="t xl" style="left:609px;top:1202px">2022 Jul</div>
<div class="t xl" style="left:787px;top:1202px">2023 Jan</div>
<div class="t xl" style="left:961px;top:1202px">2023 Jul</div>
<div class="t xl" style="left:1139px;top:1202px">2024 Jan</div>
<div class="t xl" style="left:1315px;top:1202px">2024 Jul</div>
<div class="t xl" style="left:1493px;top:1202px">2025 Jan</div>
<div class="t xl" style="left:1669px;top:1202px">2025 Jul</div>
<div class="t xl" style="left:1847px;top:1202px">2026 Jan</div>
<div class="t yr" style="top:278px">$100K</div>
<div class="t yr" style="top:340px">$90K</div>
<div class="t yr" style="top:412px">$80K</div>
<div class="t yr" style="top:492px">$70K</div>
<div class="t yr" style="top:586px">$60K</div>
<div class="t yr" style="top:696px">$50K</div>
<div class="t yr" style="top:830px">$40K</div>
<div class="t yr" style="top:1004px">$30K</div>
<div class="badgeL"></div><div class="t" style="left:86px;top:1045px;color:#fff">1.8M</div>
<div class="badgeR"></div><div class="t" style="left:2061px;top:456px;color:#111">$74.3K</div>
<div style="position:absolute;left:902px;top:43px;width:32px;height:2px;background:#f3f2f7"></div>
<div class="t lg" style="left:944px">Price USD</div>
<div style="position:absolute;left:1099px;top:42px;width:32px;height:4px;border-radius:2px;background:#3f2bb5"></div>
<div class="t lg" style="left:1141px">Miner Reserve</div>
</div>
</body></html>
